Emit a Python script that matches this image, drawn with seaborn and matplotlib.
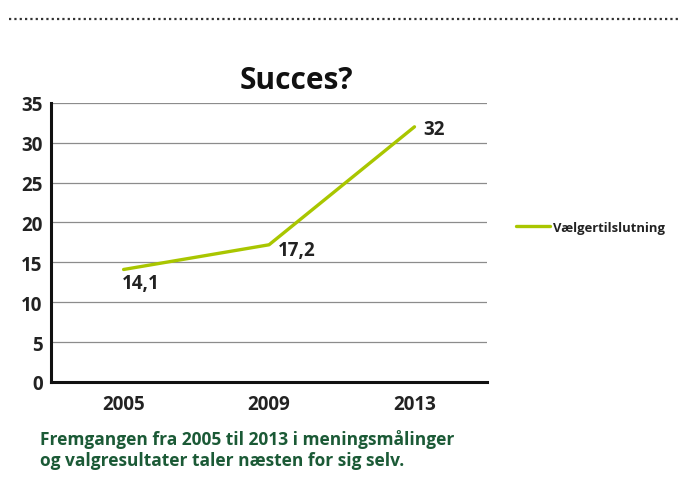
import matplotlib
matplotlib.use("Agg")
import matplotlib.pyplot as plt
import seaborn as sns
import pandas as pd

# data
aar = ["2005", "2009", "2013"]
tilslutning = [14.1, 17.2, 32]
etiketter = ["14,1", "17,2", "32"]
serie = "Vælgertilslutning"

df = pd.DataFrame({"År": aar, "Værdi": tilslutning, "Serie": serie})

sns.set_style("white")
plt.rcParams["font.family"] = ["Open Sans", "DejaVu Sans"]

fig = plt.figure(figsize=(6.97, 4.81), dpi=100)
ax = fig.add_axes([0.073, 0.204, 0.626, 0.580])

sns.lineplot(data=df, x="År", y="Værdi", hue="Serie", palette=["#a9c600"],
             linewidth=2.4, ax=ax, sort=False)

ax.set_xlim(-0.5, 2.5)
ax.set_ylim(0, 35)
ax.set_yticks(range(0, 36, 5))
ax.yaxis.grid(True, color="#8c8c8c", linewidth=0.9)
ax.set_axisbelow(True)
for s in ["top", "right"]:
    ax.spines[s].set_visible(False)
for s in ["left", "bottom"]:
    ax.spines[s].set_linewidth(2.2)
    ax.spines[s].set_color("#111111")
ax.tick_params(axis="both", length=0, labelsize=13.5)
ax.tick_params(axis="x", pad=9)
ax.tick_params(axis="y", pad=6)
for lbl in ax.get_xticklabels() + ax.get_yticklabels():
    lbl.set_fontweight("bold")
    lbl.set_color("#222222")
ax.set_xlabel("")
ax.set_ylabel("")

# dataetiketter
offsets = [(12, -10), (20, -4), (14, -1.5)]
for i, (v, t) in enumerate(zip(tilslutning, etiketter)):
    dx, dy = offsets[i]
    ax.annotate(t, (i, v), xytext=(dx, dy), textcoords="offset points",
                ha="center", va="center",
                fontsize=13.5, fontweight="bold", color="#222222")

ax.set_title("Succes?", fontsize=21.5, fontweight="bold", color="#111111",
             pad=11, x=0.562)

leg = ax.legend(loc="center left", bbox_to_anchor=(1.04, 0.554), frameon=False,
                handlelength=2.6, handletextpad=0.2, fontsize=9.4)
for txt in leg.get_texts():
    txt.set_fontweight("bold")
    txt.set_color("#222222")

# prikket linje i toppen
fig.add_artist(plt.Line2D([0.013, 0.977], [0.958, 0.958], transform=fig.transFigure,
                          linestyle=(0, (1, 1.4)), linewidth=1.6, color="#333333"))

fig.text(0.057, 0.106, "Fremgangen fra 2005 til 2013 i meningsmålinger\n"
         "og valgresultater taler næsten for sig selv.",
         fontsize=12.5, fontweight="bold", color="#1b5a36", linespacing=1.2, va="top")

fig.savefig("out.png", dpi=100)
